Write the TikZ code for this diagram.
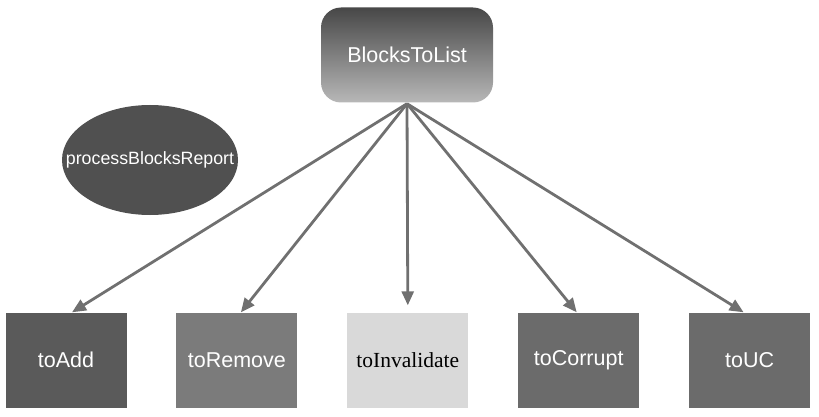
\documentclass[tikz,border=0pt]{standalone}
\usepackage{fontspec}
\setmainfont{Liberation Serif}
\setsansfont{Liberation Sans}
\usetikzlibrary{positioning, arrows.meta, shapes.geometric}

\definecolor{arrowgray}{HTML}{707070}
\definecolor{darkbox}{HTML}{5A5A5A}
\definecolor{midbox}{HTML}{7B7B7B}
\definecolor{lightbox}{HTML}{D9D9D9}
\definecolor{corbox}{HTML}{6B6B6B}
\definecolor{ovalgray}{HTML}{505050}

\begin{document}
\begin{tikzpicture}[
    x=1pt, y=-1pt,
    >={Triangle[length=14pt, width=12pt]},
    node distance=49.5pt,
    listbox/.style={
        rectangle,
        minimum width=121pt,
        minimum height=95pt,
        inner sep=0pt,
        font=\sffamily\fontsize{21.5}{24}\selectfont,
        text=white
    },
    arr/.style={->, draw=arrowgray, fill=arrowgray, line width=2.8pt}
]
    \useasboundingbox (0,0) rectangle (819,417);

    % Top block
    \node[rectangle, rounded corners=20pt, minimum width=172pt, minimum height=95pt,
          top color=black!72, bottom color=black!28,
          text=white, font=\sffamily\fontsize{21.5}{24}\selectfont]
          (lists) at (407,55) {BlocksToList};

    % Oval, text laid over it
    \node[ellipse, fill=ovalgray, minimum width=176pt, minimum height=110pt, inner sep=0pt]
          (report) at (150,160) {};
    \node[text=white, inner sep=0pt, font=\sffamily\fontsize{17.8}{20}\selectfont]
          (reporttext) at (report.center) {processBlocksReport};

    % Lists
    \node[listbox, fill=darkbox] (add) at (66,360) {toAdd};
    \node[listbox, fill=midbox, right=of add] (remove) {toRemove};
    \node[listbox, fill=lightbox, right=of remove, text=black,
          font=\rmfamily\fontsize{21.5}{24}\selectfont] (invalidate) {toInvalidate};
    \node[listbox, fill=corbox, right=of invalidate] (corrupt) {toCorrupt};
    \node[listbox, fill=corbox, right=of corrupt] (uc) {toUC};

    % Arrows
    \coordinate (hub) at ([yshift=-1pt]lists.south);
    \draw[arr] (hub) -- ([xshift=6pt]add.north);
    \draw[arr] (hub) -- ([xshift=4pt]remove.north);
    \draw[arr] (hub) -- ([yshift=7pt]invalidate.north);
    \draw[arr] (hub) -- ([xshift=-2pt]corrupt.north);
    \draw[arr] (hub) -- ([xshift=-6pt]uc.north);

\end{tikzpicture}
\end{document}
